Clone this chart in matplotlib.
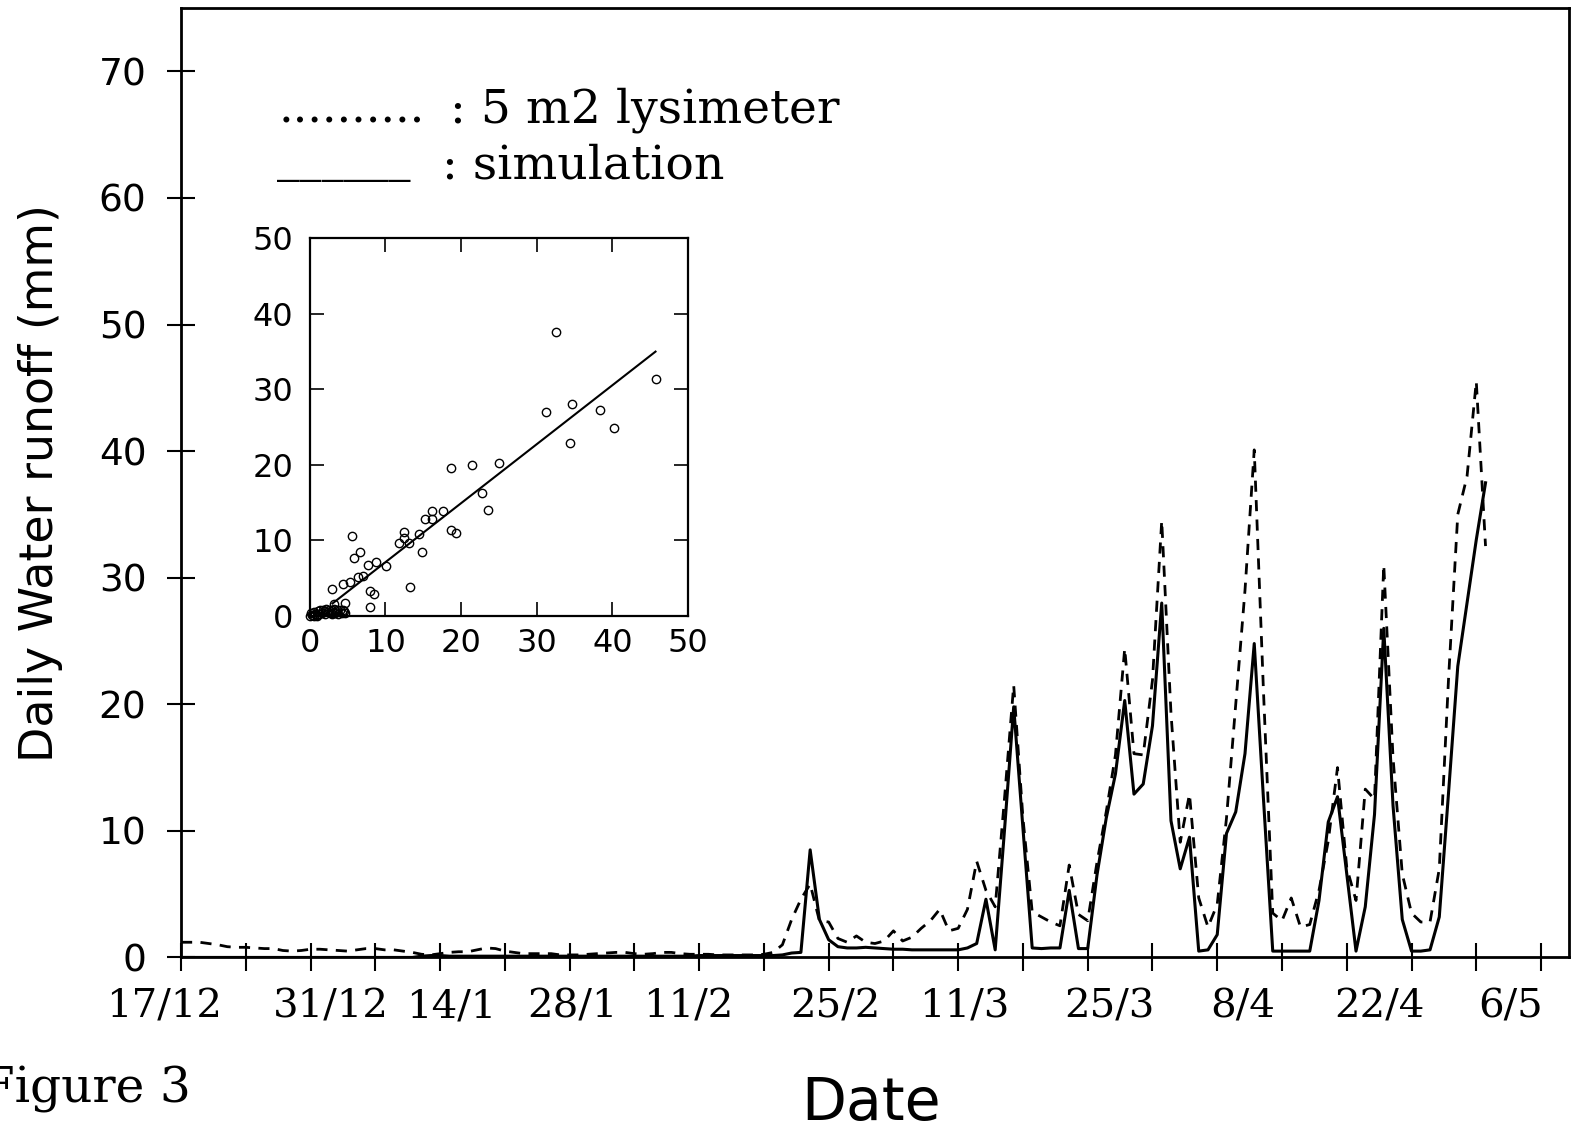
# Daily water runoff: lysimeter vs simulation, with scatter inset
import numpy as np
import matplotlib
matplotlib.use("Agg")
import matplotlib.pyplot as plt
from matplotlib.ticker import MultipleLocator, NullFormatter

# days counted from 17/12
days = np.arange(0, 142)

# 5 m2 lysimeter (dashed), mm/day, two weeks per row
lysimeter = [
    1.2, 1.2, 1.2, 1.1, 1.0, 0.85, 0.8, 0.8, 0.75, 0.7, 0.7, 0.55, 0.5, 0.55,
    0.65, 0.65, 0.6, 0.55, 0.5, 0.6, 0.7, 0.7, 0.6, 0.6, 0.5, 0.4, 0.25, 0.2,
    0.3, 0.4, 0.45, 0.45, 0.6, 0.75, 0.7, 0.5, 0.4, 0.3, 0.3, 0.3, 0.3, 0.2,
    0.2, 0.2, 0.25, 0.3, 0.35, 0.4, 0.4, 0.3, 0.25, 0.3, 0.4, 0.4, 0.3, 0.25,
    0.25, 0.25, 0.2, 0.2, 0.2, 0.2, 0.2, 0.25, 0.4, 1.0, 3.0, 4.6, 5.8, 2.9,
    2.8, 1.5, 1.2, 1.7, 1.2, 1.1, 1.3, 2.1, 1.3, 1.6, 2.3, 2.9, 3.8, 2.1,
    2.3, 3.8, 7.6, 5.3, 4.0, 12.5, 21.5, 11.0, 3.6, 3.2, 2.8, 2.5, 7.3, 3.4,
    2.9, 7.5, 11.5, 16.0, 24.4, 16.1, 16.0, 21.9, 34.5, 19.3, 9.1, 12.9, 4.7, 2.4,
    4.2, 11.0, 20.0, 29.0, 40.1, 21.0, 3.5, 2.9, 4.7, 2.4, 2.6, 5.3, 9.2, 15.0,
    7.1, 4.5, 13.3, 12.5, 31.0, 15.8, 6.6, 3.5, 2.8, 2.8, 7.0, 22.0, 35.0, 38.0,
    45.5, 32.5,
]

# simulation (solid)
simulation = [
    0.0, 0.0, 0.0, 0.0, 0.0, 0.0, 0.0, 0.0, 0.0, 0.0, 0.0, 0.0, 0.0, 0.0,
    0.0, 0.0, 0.0, 0.0, 0.0, 0.0, 0.0, 0.0, 0.0, 0.0, 0.0, 0.0, 0.1, 0.15,
    0.15, 0.1, 0.1, 0.1, 0.1, 0.1, 0.1, 0.1, 0.1, 0.1, 0.1, 0.1, 0.1, 0.1,
    0.1, 0.1, 0.1, 0.1, 0.1, 0.1, 0.1, 0.1, 0.1, 0.1, 0.1, 0.1, 0.1, 0.1,
    0.15, 0.15, 0.15, 0.15, 0.15, 0.15, 0.15, 0.15, 0.15, 0.2, 0.35, 0.4, 8.5, 3.0,
    1.4, 0.85, 0.75, 0.75, 0.8, 0.75, 0.7, 0.65, 0.65, 0.6, 0.6, 0.6, 0.6, 0.6,
    0.6, 0.75, 1.1, 4.6, 0.6, 10.0, 19.8, 10.2, 0.75, 0.7, 0.75, 0.75, 5.3, 0.7,
    0.7, 6.5, 11.0, 14.5, 20.3, 12.9, 13.7, 18.3, 28.0, 10.8, 7.0, 9.5, 0.5, 0.6,
    1.8, 9.8, 11.5, 16.1, 24.8, 12.5, 0.5, 0.5, 0.5, 0.5, 0.5, 4.5, 10.7, 12.7,
    6.6, 0.5, 4.0, 11.3, 26.0, 12.0, 3.0, 0.5, 0.5, 0.6, 3.2, 13.0, 23.0, 28.0,
    33.0, 37.5,
]

# weekly tick marks; the date labels sit where the original typed them
label_days = [-1.8, 16.2, 29.2, 42.3, 54.8, 70.7, 84.7, 100.4, 114.8, 129.5, 143.7]
tick_labels = ['17/12', '31/12', '14/1', '28/1', '11/2', '25/2',
               '11/3', '25/3', '8/4', '22/4', '6/5']

# inset: lysimeter (x) vs simulation (y)
scatter_lys = [32.5, 45.7, 31.2, 34.7, 38.4, 40.2, 34.4, 18.7, 21.5, 25.0,
               22.8, 23.5, 17.6, 16.1, 16.2, 15.2, 18.7, 19.3, 14.5, 12.4,
               12.4, 11.8, 13.1, 14.9, 13.3, 10.1, 8.8, 7.7, 5.6, 5.8,
               6.7, 6.4, 7.0, 5.3, 4.4, 3.0, 8.0, 8.5, 8.0, 3.2, 4.6,
               0.1, 0.3, 0.5, 0.7, 0.9, 1.1, 1.2, 1.4, 1.6, 1.8, 2.0, 2.2,
               2.4, 2.6, 2.8, 3.0, 3.2, 3.4, 3.6, 3.8, 4.0, 4.2, 4.4, 4.6,
               0.2, 0.6, 1.0, 2.0, 3.0, 4.5]
scatter_sim = [37.6, 31.3, 27.0, 28.1, 27.2, 24.9, 22.9, 19.6, 19.9, 20.2,
               16.2, 14.0, 13.9, 13.8, 12.8, 12.8, 11.3, 10.9, 10.8, 11.1,
               10.3, 9.6, 9.6, 8.4, 3.8, 6.6, 7.1, 6.7, 10.5, 7.6,
               8.4, 5.1, 5.3, 4.5, 4.2, 3.5, 3.3, 2.9, 1.1, 1.5, 1.7,
               0.0, 0.1, 0.0, 0.2, 0.1, 0.6, 0.2, 0.8, 0.4, 0.7, 0.2, 0.9,
               0.5, 0.8, 0.3, 0.7, 0.9, 0.4, 0.8, 0.2, 0.7, 0.4, 0.8, 0.3,
               0.3, 0.5, 0.0, 0.6, 0.2, 0.6]
fit_x = np.array([3.0, 45.7])
fit_slope = 0.782
fit_icpt = -0.75

serif = 'DejaVu Serif'
sans = 'DejaVu Sans'

fig = plt.figure(figsize=(15.77, 11.28), dpi=100)
ax = fig.add_axes([0.1148, 0.1512, 0.880, 0.8416])

ax.plot(days, lysimeter, color='black', lw=2.0, dashes=(4, 3))
ax.plot(days, simulation, color='black', lw=2.2)

ax.set_yticks(np.arange(0, 80, 10))
ax.xaxis.set_major_locator(MultipleLocator(7))
ax.xaxis.set_major_formatter(NullFormatter())
ax.set_xlim(0, 150)
ax.set_ylim(0, 75)
for lab in ax.get_yticklabels():
    lab.set_family(sans)
    lab.set_fontsize(27)
ax.tick_params(axis='both', direction='inout', length=20, width=1.5)
ax.tick_params(axis='y', pad=15)
for sp in ax.spines.values():
    sp.set_linewidth(2.0)

# date labels under the axis
xt = ax.get_xaxis_transform()
for d, lab in zip(label_days, tick_labels):
    ax.text(d, -0.0332, lab, transform=xt, ha='center', va='top',
            family=serif, fontsize=29, clip_on=False)

ax.set_ylabel('Daily Water runoff (mm)', family=sans, fontsize=33)
ax.yaxis.set_label_coords(-0.085, 0.5)
ax.set_xlabel('Date', family=sans, fontsize=42)
ax.xaxis.set_label_coords(0.497, -0.124)

# text legend as in the original
ax.text(0.0706, 0.880, '..........', transform=ax.transAxes, family=serif,
        fontsize=33, va='baseline')
ax.text(0.1938, 0.880, ': 5 m2 lysimeter', transform=ax.transAxes, family=serif,
        fontsize=34, va='baseline')
ax.text(0.069, 0.828, '______', transform=ax.transAxes, family=serif,
        fontsize=32, va='baseline')
ax.text(0.1884, 0.8207, ': simulation', transform=ax.transAxes, family=serif,
        fontsize=34, va='baseline')

fig.text(0.121, 0.0222, 'Figure 3', family=serif, fontsize=35,
         ha='right', va='baseline')

# inset scatter
ax2 = fig.add_axes([0.1964, 0.4543, 0.2399, 0.3344])
ax2.plot(scatter_lys, scatter_sim, 'o', mfc='none', mec='black', ms=6, mew=1.0,
         clip_on=False)
ax2.plot(fit_x, fit_slope * fit_x + fit_icpt, color='black', lw=1.5)
ax2.set_xlim(0, 50)
ax2.set_ylim(0, 50)
ax2.set_xticks(np.arange(0, 60, 10))
ax2.set_yticks(np.arange(0, 60, 10))
ax2.tick_params(direction='in', length=10, width=1.2, top=True, right=True,
                labelsize=23)
ax2.tick_params(axis='x', pad=9)
ax2.tick_params(axis='y', pad=12)
for sp in ax2.spines.values():
    sp.set_linewidth(1.6)

fig.savefig('out.png', dpi=100)
